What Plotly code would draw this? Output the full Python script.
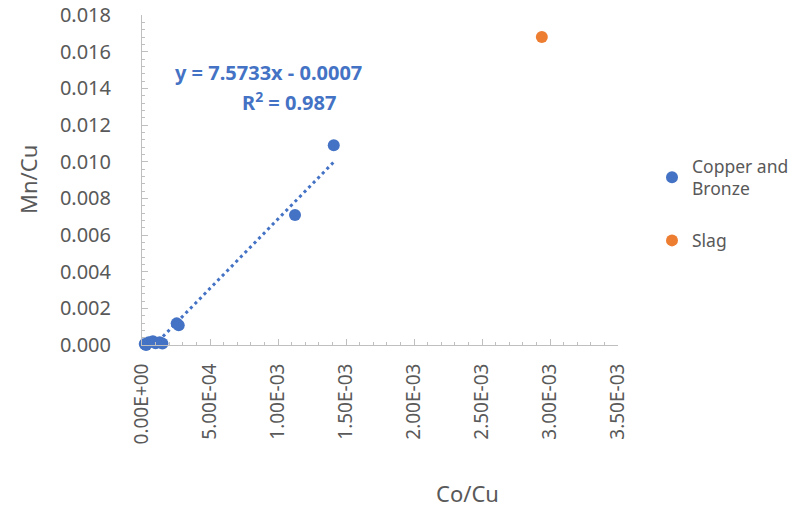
import plotly.graph_objects as go

# ---- data ----
copper_x = [0.00002, 0.00003, 0.00005, 0.00008, 0.00010, 0.00013, 0.00015,
            0.000255, 0.00027, 0.001125, 0.00141]
copper_y = [0.00005, 0.00000, 0.00015, 0.00020, 0.00010, 0.00015, 0.00008,
            0.00118, 0.00108, 0.00709, 0.01090]
slag_x = [0.00294]
slag_y = [0.0168]

trend_slope = 7.5733
trend_intercept = -0.0007
trend_label_1 = "y = 7.5733x - 0.0007"
trend_label_2 = "R<sup>2</sup> = 0.987"

x_tickvals = [0, 0.0005, 0.0010, 0.0015, 0.0020, 0.0025, 0.0030, 0.0035]
x_ticktext = ["0.00E+00", "5.00E-04", "1.00E-03", "1.50E-03", "2.00E-03",
              "2.50E-03", "3.00E-03", "3.50E-03"]
y_tickvals = [0, 0.002, 0.004, 0.006, 0.008, 0.010, 0.012, 0.014, 0.016, 0.018]
y_ticktext = ["0.000", "0.002", "0.004", "0.006", "0.008", "0.010", "0.012",
              "0.014", "0.016", "0.018"]

BLUE = "#4472C4"
ORANGE = "#ED7D31"
GRAY = "#595959"
AXIS = "#BFBFBF"
FONT = "Noto Sans"

# plot area in pixels
L, R, T, B = 142, 618, 15, 345
PW, PH = R - L, B - T


def px(x):
    return (x - L) / PW


def py(y):
    return (B - y) / PH


tx = [min(copper_x), max(copper_x)]
ty = [trend_slope * v + trend_intercept for v in tx]

fig = go.Figure()
fig.add_trace(go.Scatter(x=tx, y=ty, mode="lines", showlegend=False,
                         line=dict(color=BLUE, width=3, dash="3px,3.5px"),
                         hoverinfo="skip"))
fig.add_trace(go.Scatter(x=copper_x, y=copper_y, mode="markers",
                         name="Copper and<br>Bronze", legendgroup="a",
                         marker=dict(color=BLUE, size=12, line=dict(width=0)),
                         cliponaxis=False))
fig.add_trace(go.Scatter(x=slag_x, y=slag_y, mode="markers",
                         name="Slag", legendgroup="b",
                         marker=dict(color=ORANGE, size=12, line=dict(width=0)),
                         cliponaxis=False))

fig.update_layout(
    width=800, height=522,
    margin=dict(l=L, r=800 - R, t=T, b=522 - B, autoexpand=False),
    paper_bgcolor="white", plot_bgcolor="white",
    font=dict(family=FONT, color=GRAY, size=17),
    legend=dict(x=px(652), y=py(148), xanchor="left", yanchor="top",
                font=dict(size=17.5, color=GRAY), tracegroupgap=26,
                itemwidth=30, bgcolor="rgba(0,0,0,0)"),
    xaxis=dict(range=[0, 0.0035], tickvals=x_tickvals, ticktext=x_ticktext,
               tickangle=-90, showgrid=False, zeroline=False, automargin=False,
               showline=True, linecolor=AXIS, linewidth=1,
               ticks="inside", ticklen=6, tickcolor=AXIS,
               minor=dict(dtick=0.0001, ticks="inside", ticklen=3,
                          tickcolor=AXIS, showgrid=False),
               ticklabelstandoff=10,
               tickfont=dict(size=19, color=GRAY)),
    yaxis=dict(range=[0, 0.018], tickvals=y_tickvals, ticktext=y_ticktext,
               showgrid=False, zeroline=False, automargin=False,
               showline=True, linecolor=AXIS, linewidth=1,
               ticks="inside", ticklen=6, tickcolor=AXIS,
               minor=dict(dtick=0.0004, ticks="inside", ticklen=3,
                          tickcolor=AXIS, showgrid=False),
               ticklabelstandoff=26,
               tickfont=dict(size=20, color=GRAY)),
)

fig.add_annotation(text="Mn/Cu", xref="paper", yref="paper",
                   x=px(28), y=py(180), xanchor="center", yanchor="middle",
                   textangle=-90, showarrow=False,
                   font=dict(size=22, color=GRAY))
fig.add_annotation(text="Co/Cu", xref="paper", yref="paper",
                   x=px(467), y=py(493), xanchor="center", yanchor="middle",
                   showarrow=False, font=dict(size=22, color=GRAY))
fig.add_annotation(text="<b>" + trend_label_1 + "</b>", xref="paper", yref="paper",
                   x=px(268), y=py(72), xanchor="center", yanchor="middle",
                   showarrow=False, font=dict(size=20, color=BLUE))
fig.add_annotation(text="<b>" + trend_label_2 + "</b>", xref="paper", yref="paper",
                   x=px(289), y=py(101), xanchor="center", yanchor="middle",
                   showarrow=False, font=dict(size=20, color=BLUE))

fig.write_html("out.html")
